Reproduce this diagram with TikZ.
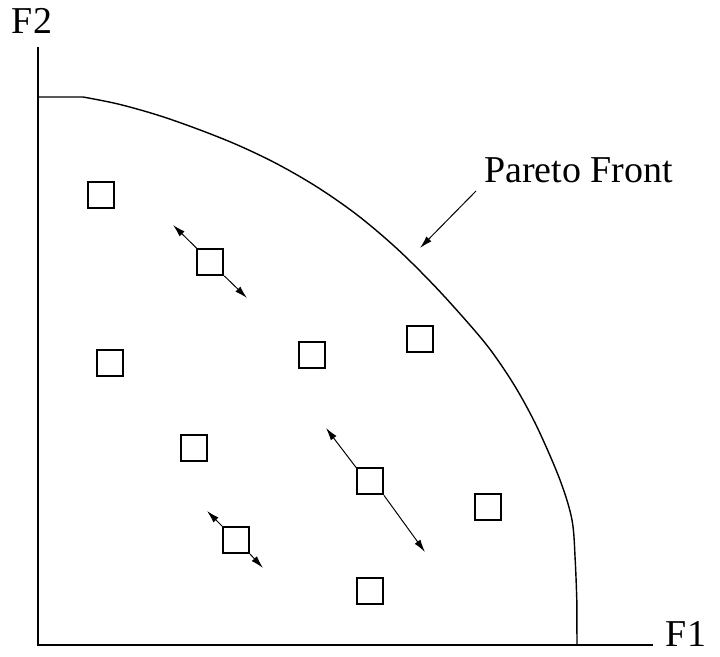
\documentclass[tikz,border=0pt]{standalone}
\usepackage{fontspec}
\setmainfont{Liberation Serif}
\usetikzlibrary{arrows.meta}
\tikzset{
  sq/.style={draw, line width=1.3pt, minimum size=0.65cm, inner sep=0pt},
  lbl/.style={inner sep=0pt, font=\fontsize{27}{32}\selectfont},
}
\begin{document}
\begin{tikzpicture}[>={Latex[length=9pt,width=5pt]}]
			\useasboundingbox (-0.95,-0.3) rectangle (17.05,16.125);
			% axes
			\draw[line width=1.3pt] (0,14.95) -- (0,0) -- (15.375,0);
			\node[lbl] (f2) at (-0.15,15.6) {F2};
			\node[lbl] (f1) at (16.2,0.27) {F1};
			% front
			\draw[line width=1pt] (0,13.7) -- (1.125,13.7)
				plot[smooth, tension=0.55] coordinates {(1.125,13.7) (2,13.525) (3,13.245) (4,12.895) (5,12.495) (6,12.015) (7,11.435) (8,10.735) (9,9.885) (10,8.885) (11,7.765) (11.5,7.115) (12,6.34) (12.5,5.4) (13.05,4.125) (13.35,3.125) (13.43,2.125) (13.47,1.125)}
				-- (13.475,0);
			\node[lbl, anchor=base west] (pf) at (11.15,11.55) {Pareto Front};
			\coordinate (pt) at (10.95,11.35);
			\coordinate (ph) at (9.55,9.925);
			\draw[->, line width=0.7pt] (pt) -- (ph);
			% solutions
			\foreach \n/\x/\y in {%
					1/1.575/11.25, 2/1.8/7.05, 3/4.31/9.575, 4/6.84/7.24,%
					5/9.56/7.66, 6/3.89/4.925, 7/8.3/4.09, 8/11.25/3.46,%
					9/4.95/2.625, 10/8.31/1.36%
				} {
					\node[sq] (s\n) at (\x,\y) {};
				}
			% moves
			\coordinate (a3) at (3.375,10.5);
			\coordinate (b3) at (5.225,8.675);
			\coordinate (a9) at (4.225,3.35);
			\coordinate (b9) at (5.625,1.925);
			\coordinate (a7) at (7.2,5.425);
			\coordinate (b7) at (9.675,2.325);
			\foreach \n in {3,9,7} {
					\draw[->, line width=0.7pt] (s\n.north west) -- (a\n);
					\draw[->, line width=0.7pt] (s\n.south east) -- (b\n);
				}
		\end{tikzpicture}
\end{document}
